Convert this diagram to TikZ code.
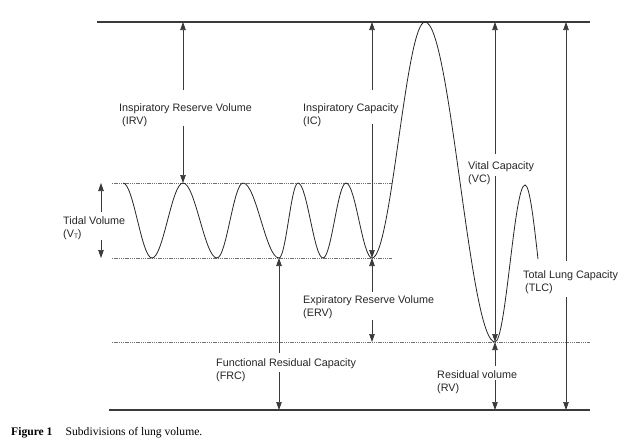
\documentclass[tikz,border=0pt]{standalone}
\usepackage{fontspec}
\setmainfont{Liberation Serif}
\newfontfamily\labfont{Liberation Sans}
\usetikzlibrary{arrows.meta}
\definecolor{lineg}{HTML}{3A3A3A}
\definecolor{dotg}{HTML}{707070}
\tikzset{
  arrline/.style={draw=lineg, line width=0.7pt, -{Triangle[length=8pt,width=5.5pt]}},
  boundline/.style={draw=lineg, line width=1.1pt},
  dotline/.style={draw=dotg, line width=0.6pt, dash pattern=on 1.4pt off 0.8pt},
  spiro/.style={draw=black!85, line width=0.8pt},
  labtext/.style={anchor=base west, inner sep=0pt, font=\labfont\fontsize{10.8}{13}\selectfont, text=black!85},
  figcaption/.style={anchor=base west, inner sep=0pt, font=\fontsize{11.6}{14}\selectfont, text=black}
}
\begin{document}
\begin{tikzpicture}[x=1pt,y=-1pt]
\useasboundingbox (0,0) rectangle (632,442);
% boundary and level lines
\coordinate (tl) at (97,22);  \coordinate (tr) at (590,22);
\coordinate (bl) at (109,410); \coordinate (br) at (590,410);
\draw[boundline] (tl) -- (tr);
\draw[boundline] (bl) -- (br);
\coordinate (u1) at (112,183); \coordinate (u2) at (392,183);
\coordinate (l1) at (112,258); \coordinate (l2) at (392,258);
\coordinate (r1) at (112,342); \coordinate (r2) at (590,342);
\draw[dotline] (u1) -- (u2);
\draw[dotline] (l1) -- (l2);
\draw[dotline] (r1) -- (r2);
% spirogram curve
\draw[spiro] (123,183) cos (137.5,220.5) sin (152,258)
  cos (167.5,220.5) sin (183,183)
  cos (200,220.5) sin (217,258)
  cos (230,220.5) sin (243,183)
  cos (261,220.5) sin (279,258)
  cos (288.5,220.5) sin (298,183)
  cos (310.5,220.5) sin (323,258)
  cos (334.5,220.5) sin (346,183)
  cos (359,220.5) sin (372,258)
  cos (398.5,140) sin (425,22)
  cos (460,182) sin (495,342)
  cos (510,263.5) sin (525,185)
  cos (538,259);
% labels
\node[labtext] (irv)  at (119,111) {Inspiratory Reserve Volume};
\node[labtext] (irv2) at (122,124) {(IRV)};
\node[labtext] (ic)   at (303,111) {Inspiratory Capacity};
\node[labtext] (ic2)  at (303,124) {(IC)};
\node[labtext] (tv)   at (63,224.5) {Tidal Volume};
\node[labtext] (tv2)  at (63,237.5) {(V\raisebox{-0.1ex}{\fontsize{6.5}{7}\selectfont T})};
\node[labtext] (erv)  at (303,303.5) {Expiratory Reserve Volume};
\node[labtext] (erv2) at (303,316) {(ERV)};
\node[labtext] (frc)  at (216,366) {Functional Residual Capacity};
\node[labtext] (frc2) at (216,379) {(FRC)};
\node[labtext] (vc)   at (468,169.5) {Vital Capacity};
\node[labtext] (vc2)  at (468,182) {(VC)};
\node[labtext] (tlc)  at (523,278.5) {Total Lung Capacity};
\node[labtext] (tlc2) at (525,291) {(TLC)};
\node[labtext] (rv)   at (437,378) {Residual volume};
\node[labtext] (rv2)  at (437,391) {(RV)};
% arrow end points
\coordinate (irvT) at (183,22);  \coordinate (irvB) at (183,183);
\coordinate (irvA) at (183,90);  \coordinate (irvC) at (183,126);
\coordinate (icT) at (372,22);   \coordinate (icB) at (372,258);
\coordinate (icA) at (372,90);   \coordinate (icC) at (372,124);
\coordinate (tvT) at (101,183);  \coordinate (tvB) at (101,258);
\coordinate (tvA) at (101,212);  \coordinate (tvC) at (101,240);
\coordinate (ervT) at (372,258); \coordinate (ervB) at (372,342);
\coordinate (ervA) at (372,292); \coordinate (ervC) at (372,320);
\coordinate (frcT) at (279,258); \coordinate (frcB) at (279,410);
\coordinate (frcA) at (279,353); \coordinate (frcC) at (279,372);
\coordinate (vcT) at (495,22);   \coordinate (vcB) at (495,342);
\coordinate (vcA) at (495,154);  \coordinate (vcC) at (495,176);
\coordinate (rvT) at (495,342);  \coordinate (rvB) at (495,410);
\coordinate (rvA) at (495,366);  \coordinate (rvC) at (495,380);
\coordinate (tlcT) at (566,22);  \coordinate (tlcB) at (566,410);
\coordinate (tlcA) at (566,261); \coordinate (tlcC) at (566,297);
% arrows
\foreach \m in {irv,ic,tv,erv,frc,vc,rv,tlc}{
  \draw[arrline] (\m A) -- (\m T);
  \draw[arrline] (\m C) -- (\m B);
}
% caption
\node[figcaption] (fig) at (11,435) {\textbf{Figure 1}};
\node[figcaption] (capt) at (65.5,435) {Subdivisions of lung volume.};
\end{tikzpicture}
\end{document}
